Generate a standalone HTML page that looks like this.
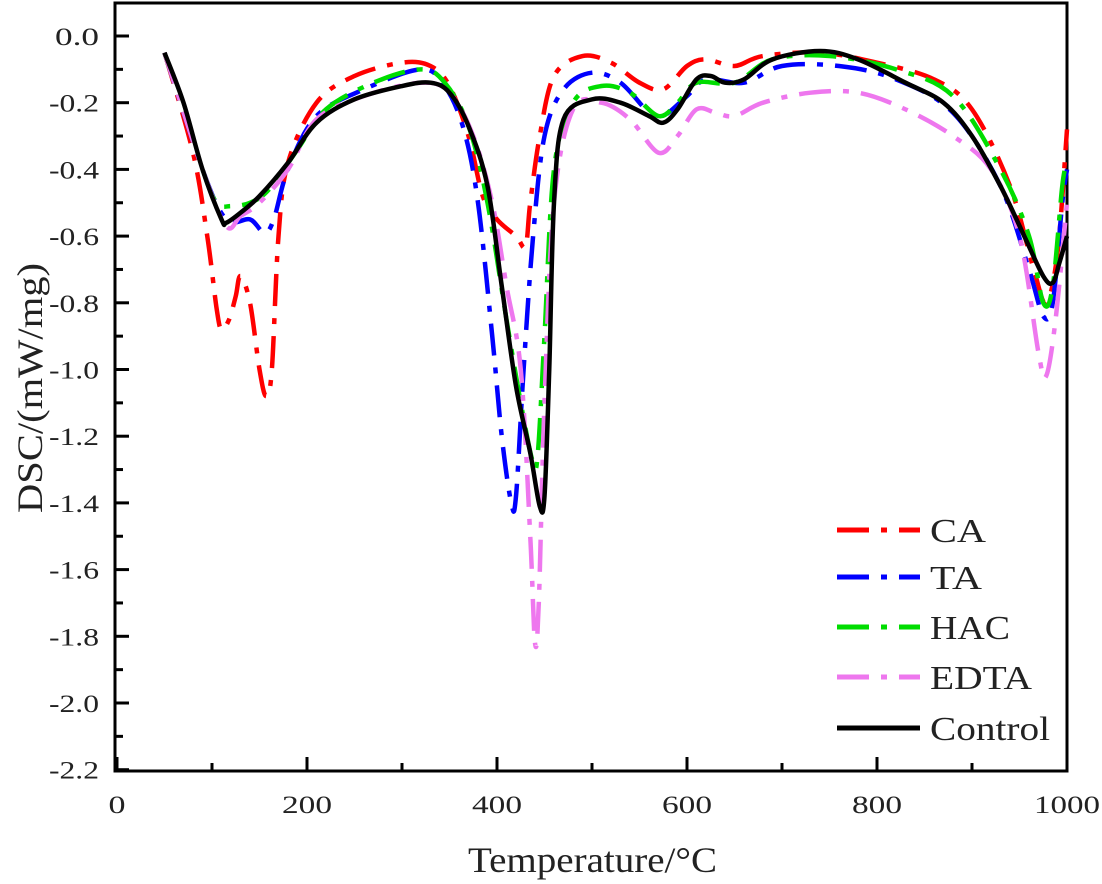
<!DOCTYPE html>
<html><head><meta charset="utf-8"><style>
html,body{margin:0;padding:0;background:#fff;}
svg{display:block;font-family:"Liberation Serif",serif;}
</style></head><body>
<svg id="s" width="1102" height="884" viewBox="0 0 1102 884" xmlns="http://www.w3.org/2000/svg">
<rect x="115" y="3" width="952" height="768" fill="none" stroke="#000" stroke-width="3"/>
<g id="ticks" stroke="#000" stroke-width="3"></g>
<g id="labels" font-size="25" fill="#222"></g>
<g id="curves" fill="none" stroke-linejoin="round" stroke-linecap="butt"></g>
<text x="42" y="388" font-size="36" text-anchor="middle" transform="rotate(-90 42 388)" fill="#222" textLength="250" lengthAdjust="spacingAndGlyphs">DSC/(mW/mg)</text>
<text x="468" y="872" font-size="36" fill="#222" textLength="249" lengthAdjust="spacingAndGlyphs">Temperature/°C</text>
<g font-size="34" fill="#222">
<line x1="837" y1="530" x2="920" y2="530" stroke="#ff0000" stroke-width="5" stroke-dasharray="32,12,6,12"/><text x="930" y="542" textLength="56" lengthAdjust="spacingAndGlyphs">CA</text>
<line x1="837" y1="577" x2="920" y2="577" stroke="#0000ff" stroke-width="5" stroke-dasharray="32,12,6,12"/><text x="930" y="589" textLength="52" lengthAdjust="spacingAndGlyphs">TA</text>
<line x1="837" y1="627" x2="920" y2="627" stroke="#00dd00" stroke-width="5" stroke-dasharray="32,12,6,12"/><text x="930" y="639" textLength="80" lengthAdjust="spacingAndGlyphs">HAC</text>
<line x1="837" y1="677" x2="920" y2="677" stroke="#ee77ee" stroke-width="5" stroke-dasharray="32,12,6,12"/><text x="930" y="689" textLength="102" lengthAdjust="spacingAndGlyphs">EDTA</text>
<line x1="837" y1="728" x2="920" y2="728" stroke="#000" stroke-width="5"/><text x="930" y="740" textLength="120" lengthAdjust="spacingAndGlyphs">Control</text>
</g>
</svg>
<script>
const NS="http://www.w3.org/2000/svg";
const X=t=>117+0.95*t, Y=v=>36-333.5*v;
const tk=document.getElementById('ticks'), lb=document.getElementById('labels'), cv=document.getElementById('curves');
function el(p,n,a){const e=document.createElementNS(NS,n);for(const k in a)e.setAttribute(k,a[k]);p.appendChild(e);return e;}
for(let i=0;i<=22;i++){const v=-i*0.1,y=Y(v),maj=i%2==0;
 el(tk,'line',{x1:115,x2:115+(maj?14:8),y1:y,y2:y});
 if(maj){const s=(i==0?'0.0':'-'+(i/10).toFixed(1));const t=el(lb,'text',{x:99,y:y+9,'text-anchor':'end',textLength:(i==0?44:50),lengthAdjust:'spacingAndGlyphs'});t.textContent=s;}}
for(let t=0;t<=1000;t+=100){const x=X(t),maj=t%200==0;
 el(tk,'line',{x1:x,x2:x,y1:771,y2:771-(maj?14:8)});
 if(maj){const w=t==0?17:(t==1000?66:50);const e=el(lb,'text',{x:x,y:813,'text-anchor':'middle',textLength:w,lengthAdjust:'spacingAndGlyphs'});e.textContent=t;}}
function path(d){const p=d.map(a=>[X(a[0]),Y(a[1])]);let s='M'+p[0][0]+','+p[0][1];
 for(let i=0;i<p.length-1;i++){const p0=p[i-1]||p[i],p1=p[i],p2=p[i+1],p3=p[i+2]||p2;
  const c1=[p1[0]+(p2[0]-p0[0])/6,p1[1]+(p2[1]-p0[1])/6],c2=[p2[0]-(p3[0]-p1[0])/6,p2[1]-(p3[1]-p1[1])/6];
  s+=` C${c1[0]},${c1[1]} ${c2[0]},${c2[1]} ${p2[0]},${p2[1]}`;}return s;}
function P(a){const r=[];for(let i=0;i<a.length;i+=2)r.push([a[i],a[i+1]]);return r;}
const CA=P([50,-0.05,80,-0.35,95,-0.6,105,-0.82,110,-0.88,118,-0.85,125,-0.78,130,-0.72,140,-0.8,150,-1.0,157,-1.08,163,-1.0,170,-0.6,180,-0.38,210,-0.2,250,-0.12,300,-0.08,330,-0.09,350,-0.15,370,-0.3,385,-0.48,400,-0.55,420,-0.6,430,-0.63,435,-0.5,445,-0.3,460,-0.12,490,-0.06,520,-0.08,550,-0.14,575,-0.16,600,-0.09,620,-0.07,650,-0.09,680,-0.06,740,-0.05,800,-0.08,860,-0.13,900,-0.22,940,-0.45,965,-0.7,978,-0.8,990,-0.65,1000,-0.28]);
const TA=P([50,-0.05,90,-0.4,115,-0.55,140,-0.55,155,-0.59,165,-0.55,180,-0.4,210,-0.24,260,-0.16,320,-0.1,345,-0.15,365,-0.28,380,-0.5,395,-0.9,405,-1.2,415,-1.4,420,-1.38,428,-1.0,438,-0.6,450,-0.3,470,-0.16,500,-0.11,530,-0.14,560,-0.23,575,-0.24,600,-0.18,620,-0.13,660,-0.14,700,-0.09,760,-0.09,820,-0.13,880,-0.23,930,-0.45,960,-0.7,975,-0.84,985,-0.8,995,-0.5,1000,-0.4]);
const HAC=P([50,-0.05,90,-0.4,105,-0.5,120,-0.51,140,-0.5,160,-0.46,190,-0.34,220,-0.22,270,-0.14,320,-0.1,345,-0.14,370,-0.27,390,-0.5,410,-0.85,425,-1.1,438,-1.28,443,-1.25,450,-0.9,460,-0.4,480,-0.2,510,-0.15,540,-0.17,570,-0.24,590,-0.2,610,-0.14,650,-0.14,690,-0.07,750,-0.06,820,-0.1,880,-0.18,930,-0.4,960,-0.6,975,-0.8,985,-0.75,995,-0.45,1000,-0.38]);
const ED=P([50,-0.05,90,-0.4,115,-0.57,130,-0.54,150,-0.5,180,-0.4,210,-0.25,260,-0.18,320,-0.14,350,-0.17,375,-0.3,395,-0.5,410,-0.75,425,-1.0,435,-1.5,440,-1.82,444,-1.7,450,-1.1,460,-0.5,480,-0.22,510,-0.2,540,-0.25,570,-0.35,590,-0.3,610,-0.22,630,-0.23,650,-0.24,680,-0.2,730,-0.17,780,-0.17,830,-0.22,880,-0.3,920,-0.4,950,-0.6,970,-0.95,978,-1.02,988,-0.85,1000,-0.5]);
const CO=P([50,-0.05,70,-0.2,90,-0.4,110,-0.55,115,-0.56,130,-0.53,150,-0.48,180,-0.38,210,-0.26,250,-0.19,300,-0.15,330,-0.14,350,-0.17,370,-0.27,390,-0.45,405,-0.75,420,-1.05,435,-1.25,445,-1.41,450,-1.38,455,-1.0,460,-0.5,470,-0.25,500,-0.19,530,-0.2,560,-0.24,575,-0.26,590,-0.22,610,-0.13,625,-0.12,640,-0.14,660,-0.13,690,-0.07,740,-0.045,780,-0.07,830,-0.14,870,-0.2,900,-0.3,930,-0.45,955,-0.6,975,-0.72,985,-0.74,992,-0.68,1000,-0.6]);
const dash="32,12,6,12";
[[CA,'#ff0000'],[TA,'#0000ff'],[HAC,'#00dd00'],[ED,'#ee77ee']].forEach(([d,c])=>el(cv,'path',{d:path(d),stroke:c,'stroke-width':4.5,'stroke-dasharray':dash}));
el(cv,'path',{d:path(CO),stroke:'#000','stroke-width':4.5});
</script>
</body></html>
